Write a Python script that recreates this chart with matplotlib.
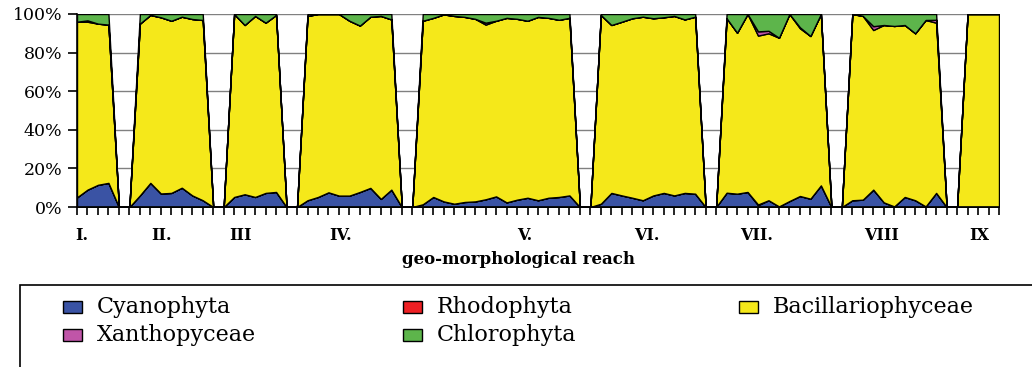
import numpy as np
import matplotlib.pyplot as plt
from matplotlib.patches import Rectangle

plt.rcParams['font.family'] = 'DejaVu Serif'

# share of each algal group per sampling site (%), reaches I..IX,
# two empty slots between reaches
cyano = [5, 9, 11.5, 12.5, 0, 0,
         6, 12.5, 7, 7.3, 10, 6, 3.5, 0, 0,
         5.2, 6.6, 5.2, 7.3, 7.8, 0, 0,
         3.5, 5.2, 7.6, 5.9, 5.9, 7.8, 9.9, 4.2, 9, 0, 0,
         1.4, 5.2, 2.9, 1.7, 2.6, 2.9, 4, 5.5, 2.4, 3.8, 4.8, 3.5, 4.8, 5.2, 6, 0, 0,
         1.7, 7.3, 6, 4.8, 3.5, 6, 7.3, 6, 7.3, 6.9, 0, 0,
         7.4, 6.9, 7.8, 0.9, 3.5, 0.3, 3.1, 5.7, 4.3, 11.2, 0, 0,
         3.5, 3.8, 9, 2.4, 0.3, 5.2, 3.5, 0.3, 7.3, 0, 0,
         0, 0, 0, 0]
rhodo = [0, 0, 0, 0, 0, 0,
         0, 0, 0, 0, 0, 0, 0, 0, 0,
         0, 0, 0, 0, 0, 0, 0,
         0, 0, 0, 0, 0, 0, 0, 0, 0, 0, 0,
         0, 0, 0, 0, 0, 0, 0, 0, 0, 0, 0, 0, 0, 0, 0, 0, 0,
         0, 0, 0, 0, 0, 0, 0, 0, 0, 0, 0, 0,
         0, 0, 0, 0.4, 0, 0, 0, 0, 0, 0, 0, 0,
         0, 0, 0, 0, 0, 0, 0, 0, 0, 0, 0,
         0, 0, 0, 0]
bacil = [91, 87, 83.5, 82, 0, 0,
         89, 87, 91.3, 89.2, 88.6, 91.4, 93.4, 0, 0,
         94.8, 87.7, 93.8, 88.2, 91.7, 0, 0,
         95.5, 94.8, 92.4, 94.1, 90.6, 86.2, 88.7, 94.8, 88.2, 0, 0,
         95.1, 92.8, 96.9, 97.3, 95.9, 94.6, 90.5, 91, 95.6, 93.7, 91.7, 95, 93.2, 91.8, 92, 0, 0,
         97.8, 87, 90, 93, 95.1, 91.8, 91, 93, 89.9, 91.7, 0, 0,
         90.4, 83.4, 92.2, 87.5, 86.5, 87.4, 96.9, 86.9, 84.3, 88.8, 0, 0,
         96.5, 95.2, 82.7, 91.9, 93.5, 89.1, 86.5, 96.6, 88.2, 0, 0,
         100, 100, 100, 100]
xantho = [0, 0.7, 0, 0, 0, 0,
          0, 0, 0, 0, 0, 0, 0, 0, 0,
          0, 0, 0, 0, 0, 0, 0,
          0, 0, 0, 0, 0, 0, 0, 0, 0, 0, 0,
          0, 0, 0, 0, 0, 0, 1, 0, 0, 0, 0, 0, 0, 0, 0, 0, 0,
          0, 0, 0, 0, 0, 0, 0, 0, 0, 0, 0, 0,
          0, 0, 0, 2.2, 1.3, 0, 0, 0.5, 0, 0, 0, 0,
          0, 0, 2, 0, 0, 0, 0, 0, 1.5, 0, 0,
          0, 0, 0, 0]
chloro = [4, 3.3, 5, 5.5, 0, 0,
          5, 0.5, 1.7, 3.5, 1.4, 2.6, 3.1, 0, 0,
          0, 5.7, 1, 4.5, 0.5, 0, 0,
          1, 0, 0, 0, 3.5, 6, 1.4, 1, 2.8, 0, 0,
          3.5, 2, 0.2, 1, 1.5, 2.5, 4.5, 3.5, 2, 2.5, 3.5, 1.5, 2, 3, 2, 0, 0,
          0.5, 5.7, 4, 2.2, 1.4, 2.2, 1.7, 1, 2.8, 1.4, 0, 0,
          2.2, 9.7, 0, 9, 8.7, 12.3, 0, 6.9, 11.4, 0, 0, 0,
          0, 1, 6.3, 5.7, 6.2, 5.7, 10, 3.1, 3, 0, 0,
          0, 0, 0, 0]

names = ['Cyanophyta', 'Rhodophyta', 'Bacillariophyceae', 'Xanthopyceae', 'Chlorophyta']
colors = ['#3a53a4', '#ee2024', '#f5e81a', '#c055a8', '#5db54b']
reaches = ['I.', 'II.', 'III', 'IV.', 'V.', 'VI.', 'VII.', 'VIII', 'IX']

W, H = 1032, 367
fig = plt.figure(figsize=(W / 100, H / 100), dpi=100)
ax = fig.add_axes([77 / W, 1 - 207 / H, (999 - 77) / W, (207 - 14) / H])

x = np.arange(len(cyano))
stack = np.array([cyano, rhodo, bacil, xantho, chloro], dtype=float)
tot = stack.sum(axis=0)
pct = np.divide(stack * 100, tot, out=np.zeros_like(stack), where=tot > 0)

ax.stackplot(x, pct, colors=colors, edgecolor='black', linewidth=1)

ax.set_xlim(0, len(x) - 1)
ax.set_ylim(0, 100)
ax.set_xticks(x)
ax.set_xticklabels([])
ax.tick_params(axis='x', direction='out', length=6, width=1.2)
ax.set_yticks(range(0, 101, 20))
ax.set_yticklabels([f'{v}%' for v in range(0, 101, 20)])
ax.tick_params(axis='y', direction='out', length=6.5, width=1.2, labelsize=12.5, pad=4)
ax.yaxis.grid(True, color='#808080', linewidth=1)
ax.set_axisbelow(True)
for s in ['top', 'right']:
    ax.spines[s].set_visible(False)
for s in ['left', 'bottom']:
    ax.spines[s].set_linewidth(1.2)

# reach labels under the axis
reach_px = [82, 162, 240, 341, 525, 647, 757, 882, 979]
for lab, px in zip(reaches, reach_px):
    fig.text(px / W, 1 - 235 / H, lab, ha='center', va='center',
             fontsize=11.5, fontweight='bold')
fig.text(518 / W, 1 - 260 / H, 'geo-morphological reach', ha='center', va='center',
         fontsize=12, fontweight='bold')

# legend box, runs off the right and bottom edges
fig.patches.append(Rectangle((20 / W, -0.1), 1.1, 0.1 + 1 - 285 / H, transform=fig.transFigure,
                             facecolor='white', edgecolor='black', linewidth=1.2))
leg_pos = [(63, 313), (403, 313), (739, 313), (63, 341), (403, 341)]
for name, col, (lx, ly) in zip(names, colors, leg_pos):
    fig.patches.append(Rectangle((lx / W, 1 - ly / H), 19 / W, 12 / H, transform=fig.transFigure,
                                 facecolor=col, edgecolor='black', linewidth=1))
    fig.text((lx + 34) / W, 1 - ly / H, name, ha='left', va='baseline', fontsize=16)

fig.savefig('out.png', dpi=100)
